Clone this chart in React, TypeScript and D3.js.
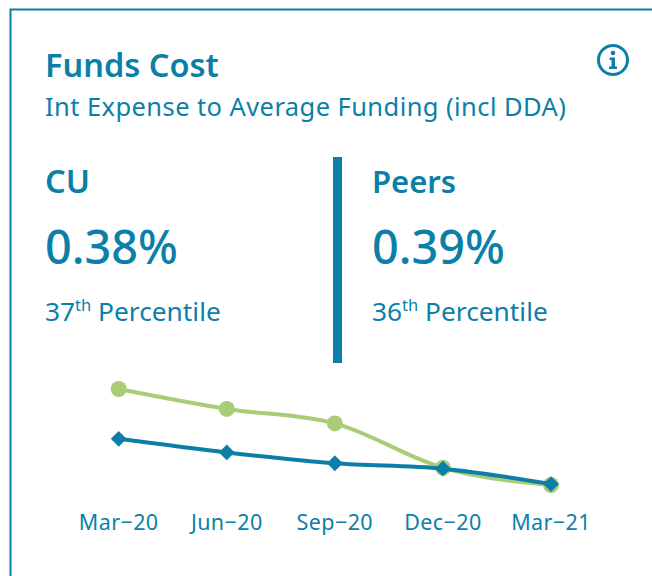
import React from "react";
import * as d3 from "d3";

const quarters = ["Mar-20", "Jun-20", "Sep-20", "Dec-20", "Mar-21"];
const peersSeries = [0.91, 0.80, 0.72, 0.475, 0.38];
const cuSeries = [0.635, 0.56, 0.50, 0.47, 0.385];

const BLUE = "#0b7fa8";
const GREEN = "#a9cd77";
const FONT = "'Noto Sans', 'Open Sans', sans-serif";

export default function App() {
  const x = d3.scalePoint<string>().domain(quarters).range([118.7, 551]);
  const y = d3.scaleLinear().domain([0.38, 0.91]).range([485, 389]);
  const line = d3
    .line<number>()
    .x((_, i) => x(quarters[i]) as number)
    .y((d) => y(d))
    .curve(d3.curveMonotoneX);
  const diamond = d3.symbol().type(d3.symbolSquare).size(125)();

  return (
    <svg
      width={652}
      height={576}
      style={{ position: "absolute", left: 0, top: 0, background: "#fff" }}
      fontFamily={FONT}
      fill={BLUE}
    >
      <path d="M652 9.5H10.5V576" fill="none" stroke={BLUE} strokeWidth={2} />

      <text x={45} y={77} fontSize={32.5} fontWeight={600}>Funds Cost</text>
      <text x={45} y={116} fontSize={25.5} letterSpacing={0.42}>Int Expense to Average Funding (incl DDA)</text>

      <g transform="translate(613,60)">
        <circle r={14.5} fill="none" stroke={BLUE} strokeWidth={3} />
        <circle cy={-7} r={2.3} />
        <path d="M-3.5 -2.5H2V6.5H4V9H-4V6.5H-1.5V0H-3.5Z" />
      </g>

      <text x={45} y={193} fontSize={32.5} fontWeight={600}>CU</text>
      <text x={45} y={264} fontSize={46.8} fontWeight={500}>0.38%</text>
      <text x={45} y={321} fontSize={26.3}>
        37<tspan fontSize={16.5} dy={-10}>th</tspan>
        <tspan dy={10}> Percentile</tspan>
      </text>

      <rect x={333} y={157} width={9} height={206} />

      <text x={372} y={193} fontSize={31} fontWeight={600}>Peers</text>
      <text x={372} y={264} fontSize={46.8} fontWeight={500}>0.39%</text>
      <text x={372} y={321} fontSize={26.3}>
        36<tspan fontSize={16.5} dy={-10}>th</tspan>
        <tspan dy={10}> Percentile</tspan>
      </text>

      <path d={line(peersSeries) as string} fill="none" stroke={GREEN} strokeWidth={4} />
      {peersSeries.map((d, i) => (
        <circle key={quarters[i]} cx={x(quarters[i])} cy={y(d)} r={8} fill={GREEN} />
      ))}
      <path d={line(cuSeries) as string} fill="none" stroke={BLUE} strokeWidth={4} />
      {cuSeries.map((d, i) => (
        <path
          key={quarters[i]}
          d={diamond as string}
          transform={`translate(${x(quarters[i])},${y(d)}) rotate(45)`}
          fill={BLUE}
        />
      ))}

      {quarters.map((q) => (
        <text key={q} x={x(q)} y={530} fontSize={21.5} letterSpacing={0.4} textAnchor="middle">
          {q.replace("-", "\u2212")}
        </text>
      ))}
    </svg>
  );
}
